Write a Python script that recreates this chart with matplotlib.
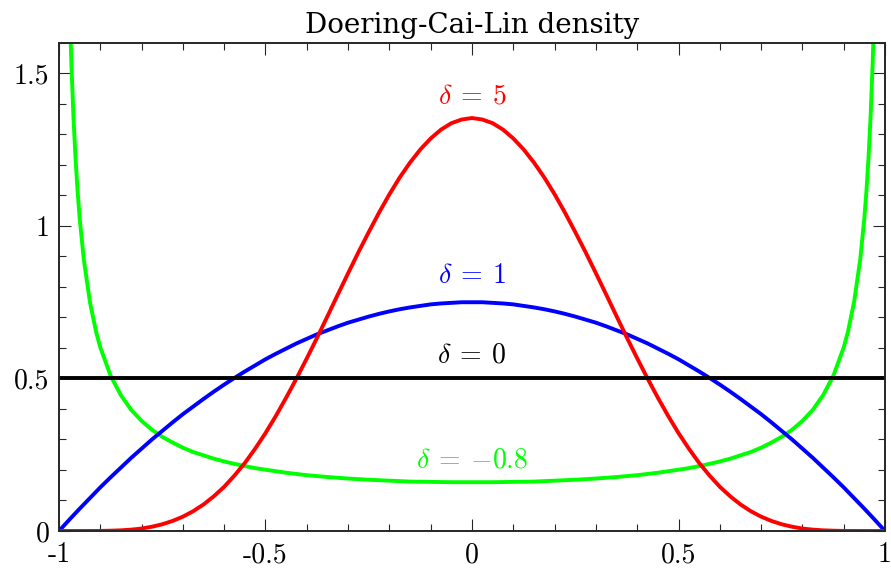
#!/usr/bin/env python3
'''
Doering-Cai-Lin density for a few values of delta
'''
import matplotlib
matplotlib.use('Agg')
import matplotlib.pyplot as plt
from matplotlib.ticker import FixedLocator, FixedFormatter, MultipleLocator

# values
x_grid = [-1.0, -0.975, -0.95, -0.925, -0.9, -0.875, -0.85, -0.825, -0.8, -0.775,
          -0.75, -0.725, -0.7, -0.675, -0.65, -0.625, -0.6, -0.575, -0.55, -0.525,
          -0.5, -0.475, -0.45, -0.425, -0.4, -0.375, -0.35, -0.325, -0.3, -0.275,
          -0.25, -0.225, -0.2, -0.175, -0.15, -0.125, -0.1, -0.075, -0.05, -0.025,
          0.0,
          0.025, 0.05, 0.075, 0.1, 0.125, 0.15, 0.175, 0.2, 0.225, 0.25,
          0.275, 0.3, 0.325, 0.35, 0.375, 0.4, 0.425, 0.45, 0.475, 0.5,
          0.525, 0.55, 0.575, 0.6, 0.625, 0.65, 0.675, 0.7, 0.725, 0.75,
          0.775, 0.8, 0.825, 0.85, 0.875, 0.9, 0.925, 0.95, 0.975, 1.0]

dens_d5 = [0.0, 0.0, 0.0, 0.0001, 0.0003, 0.001, 0.0022, 0.0045, 0.008, 0.014,
           0.022, 0.033, 0.047, 0.065, 0.087, 0.114, 0.145, 0.182, 0.223, 0.270,
           0.321, 0.377, 0.437, 0.500, 0.566, 0.634, 0.704, 0.775, 0.845, 0.914,
           0.980, 1.044, 1.104, 1.159, 1.208, 1.251, 1.287, 1.316, 1.337, 1.349,
           1.354,
           1.349, 1.337, 1.316, 1.287, 1.251, 1.208, 1.159, 1.104, 1.044, 0.980,
           0.914, 0.845, 0.775, 0.704, 0.634, 0.566, 0.500, 0.437, 0.377, 0.321,
           0.270, 0.223, 0.182, 0.145, 0.114, 0.087, 0.065, 0.047, 0.033, 0.022,
           0.014, 0.008, 0.0045, 0.0022, 0.001, 0.0003, 0.0001, 0.0, 0.0, 0.0]

dens_d1 = [0.0, 0.037, 0.073, 0.108, 0.143, 0.176, 0.208, 0.240, 0.270, 0.300,
           0.328, 0.356, 0.383, 0.408, 0.433, 0.457, 0.480, 0.502, 0.523, 0.543,
           0.563, 0.581, 0.598, 0.615, 0.630, 0.645, 0.658, 0.671, 0.683, 0.693,
           0.703, 0.712, 0.720, 0.727, 0.733, 0.738, 0.743, 0.746, 0.748, 0.750,
           0.750,
           0.750, 0.748, 0.746, 0.743, 0.738, 0.733, 0.727, 0.720, 0.712, 0.703,
           0.693, 0.683, 0.671, 0.658, 0.645, 0.630, 0.615, 0.598, 0.581, 0.563,
           0.543, 0.523, 0.502, 0.480, 0.457, 0.433, 0.408, 0.383, 0.356, 0.328,
           0.300, 0.270, 0.240, 0.208, 0.176, 0.143, 0.108, 0.073, 0.037, 0.0]

x_d0 = [-1.0, 1.0]
dens_d0 = [0.5, 0.5]

x_neg = [-0.975, -0.9725, -0.97, -0.965, -0.96, -0.955, -0.95, -0.94, -0.925, -0.91,
         -0.9, -0.875, -0.85, -0.825, -0.8, -0.775, -0.75, -0.725, -0.7, -0.675,
         -0.65, -0.625, -0.6, -0.575, -0.55, -0.525, -0.5, -0.45, -0.4, -0.35,
         -0.3, -0.25, -0.2, -0.15, -0.1, -0.05,
         0.0,
         0.05, 0.1, 0.15, 0.2, 0.25, 0.3, 0.35, 0.4, 0.45, 0.5,
         0.525, 0.55, 0.575, 0.6, 0.625, 0.65, 0.675, 0.7, 0.725, 0.75,
         0.775, 0.8, 0.825, 0.85, 0.875, 0.9, 0.91, 0.925, 0.94, 0.95,
         0.955, 0.96, 0.965, 0.97, 0.9725, 0.975]
dens_neg = [1.770, 1.642, 1.533, 1.358, 1.223, 1.115, 1.027, 0.891, 0.750, 0.652,
            0.602, 0.509, 0.445, 0.397, 0.361, 0.332, 0.309, 0.290, 0.273, 0.259,
            0.248, 0.237, 0.228, 0.220, 0.213, 0.206, 0.201, 0.191, 0.183, 0.177,
            0.172, 0.168, 0.165, 0.162, 0.161, 0.160,
            0.160,
            0.160, 0.161, 0.162, 0.165, 0.168, 0.172, 0.177, 0.183, 0.191, 0.201,
            0.206, 0.213, 0.220, 0.228, 0.237, 0.248, 0.259, 0.273, 0.290, 0.309,
            0.332, 0.361, 0.397, 0.445, 0.509, 0.602, 0.652, 0.750, 0.891, 1.027,
            1.115, 1.223, 1.358, 1.533, 1.642, 1.770]

x_ticks = [-1, -0.5, 0, 0.5, 1]
x_tick_labels = ['-1', '-0.5', '0', '0.5', '1']
y_ticks = [0, 0.5, 1, 1.5]
y_tick_labels = ['0', '0.5', '1', '1.5']

curve_labels = [r'$\delta\:=\:5$', r'$\delta\:=\:1$', r'$\delta\:=\:0$', r'$\delta\:=\:-0.8$']
label_y = [1.425, 0.835, 0.575, 0.232]
colors = ['#ff0000', '#0000ff', '#000000', '#00ff00']

AXIS_COLOR = '#262626'


def main():
    ''' Draw the figure '''
    plt.rcParams['font.family'] = ['cmr10', 'DejaVu Serif']
    plt.rcParams['mathtext.fontset'] = 'cm'
    plt.rcParams['axes.unicode_minus'] = False

    fig = plt.figure(figsize=(8.91, 5.73), dpi=100)
    ax = fig.add_axes([0.0662, 0.0733, 0.9271, 0.8517])

    lw = 2.8
    ax.plot(x_neg, dens_neg, color=colors[3], lw=lw, solid_capstyle='butt')
    ax.plot(x_grid, dens_d1, color=colors[1], lw=lw)
    ax.plot(x_grid, dens_d5, color=colors[0], lw=lw)
    ax.plot(x_d0, dens_d0, color=colors[2], lw=lw)

    for text, y, c in zip(curve_labels, label_y, colors):
        ax.text(0, y, text, color=c, ha='center', va='center', fontsize=20)

    ax.set_xlim(-1, 1)
    ax.set_ylim(0, 1.6)
    ax.xaxis.set_major_locator(FixedLocator(x_ticks))
    ax.xaxis.set_major_formatter(FixedFormatter(x_tick_labels))
    ax.xaxis.set_minor_locator(MultipleLocator(0.1))
    ax.yaxis.set_major_locator(FixedLocator(y_ticks))
    ax.yaxis.set_major_formatter(FixedFormatter(y_tick_labels))
    ax.yaxis.set_minor_locator(MultipleLocator(0.1))

    ax.tick_params(which='both', direction='in', top=True, right=True,
                   color=AXIS_COLOR, width=0.8, labelsize=20)
    ax.tick_params(axis='y', pad=7)
    ax.tick_params(axis='x', pad=8)
    ax.tick_params(which='major', length=8.8)
    ax.tick_params(which='minor', length=5)
    for sp in ax.spines.values():
        sp.set_color(AXIS_COLOR)
        sp.set_linewidth(1.4)

    ax.set_title('Doering-Cai-Lin density', fontsize=20, pad=7,
                 family='DejaVu Serif')

    fig.savefig('out.png', dpi=100)


if __name__ == "__main__":
    main()
